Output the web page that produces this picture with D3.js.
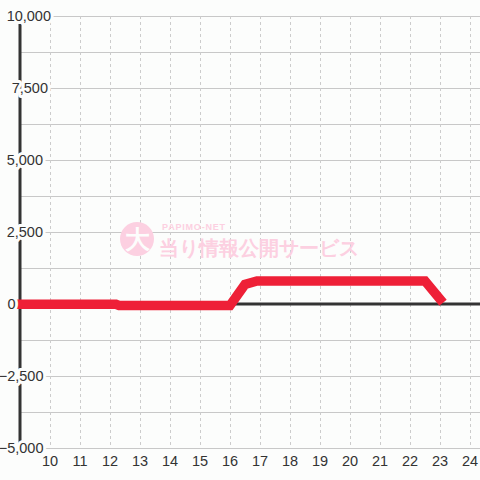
<!DOCTYPE html>
<html><head><meta charset="utf-8">
<script src="https://cdn.jsdelivr.net/npm/d3@7"></script>
<style>
html,body{margin:0;padding:0;background:#fcfdfc;}
svg{display:block;}
text{font-family:"Liberation Sans",Arial,sans-serif;}
</style></head>
<body>
<script>
// data
const hours = [9, 12.2, 12.3, 16.0, 16.5, 16.9, 22.5, 23.0];
const values = [-10, -10, -50, -50, 680, 800, 800, 170];
const xTicks = [10, 11, 12, 13, 14, 15, 16, 17, 18, 19, 20, 21, 22, 23, 24];
const yTicks = [-5000, -2500, 0, 2500, 5000, 7500, 10000];
const yGrid = d3.range(-5000, 10001, 1250);

const W = 480, H = 480;
const svg = d3.select("body").append("svg").attr("width", W).attr("height", H);
svg.append("rect").attr("width", W).attr("height", H).attr("fill", "#fcfdfc");

const x = d3.scaleLinear().domain([9, 24 + 1/3]).range([20, 480]);
const y = d3.scaleLinear().domain([-5000, 10000]).range([448, 16]);

// horizontal grid
svg.append("g").selectAll("line").data(yGrid).join("line")
  .attr("x1", x(9)).attr("x2", W)
  .attr("y1", d => y(d)).attr("y2", d => y(d))
  .attr("stroke", "#c8c8c8").attr("stroke-width", 1).attr("shape-rendering", "crispEdges");

// vertical dashed grid
svg.append("g").selectAll("line").data(xTicks).join("line")
  .attr("x1", d => Math.round(x(d)) + 0.5).attr("x2", d => Math.round(x(d)) + 0.5)
  .attr("y1", y(10000)).attr("y2", y(-5000))
  .attr("stroke", "#cccccc").attr("stroke-width", 1).attr("stroke-dasharray", "3,3");

// watermark
const wm = svg.append("g");
wm.append("circle").attr("cx", 137).attr("cy", 239).attr("r", 17).attr("fill", "#fcd0e1");
wm.append("text").attr("x", 137).attr("y", 248).attr("text-anchor", "middle")
  .attr("font-family", "Noto Sans CJK JP").attr("font-weight", "bold").attr("font-size", 25)
  .attr("fill", "#fcfdfc").text("大");
wm.append("text").attr("x", 162).attr("y", 230)
  .attr("font-family", "Noto Sans CJK JP").attr("font-weight", "bold").attr("font-size", 9)
  .attr("letter-spacing", 0.8).attr("fill", "#fcd0e1").text("PAPIMO-NET");
wm.append("text").attr("x", 159).attr("y", 255)
  .attr("font-family", "Noto Sans CJK JP").attr("font-weight", "bold").attr("font-size", 20)
  .attr("fill", "#fcd0e1").text("当り情報公開サービス");

// zero line
svg.append("line").attr("x1", x(9)).attr("x2", W).attr("y1", y(0)).attr("y2", y(0))
  .attr("stroke", "#333").attr("stroke-width", 3);

// y axis line
svg.append("line").attr("x1", x(9)).attr("x2", x(9)).attr("y1", 24).attr("y2", y(-5000))
  .attr("stroke", "#333").attr("stroke-width", 3);

// series line
const pts = hours.map((h, i) => [h, values[i]]);
svg.append("path").datum(pts)
  .attr("d", d3.line().x(d => x(d[0])).y(d => y(d[1])))
  .attr("fill", "none").attr("stroke", "#ee2037").attr("stroke-width", 9.5)
  .attr("stroke-linecap", "square");

// y labels
const fmt = d3.format(",");
const yEnd = {10000: 51, 7500: 48, 5000: 43, 2500: 43, 0: 15.5, "-2500": 43.5, "-5000": 43.5};
svg.append("g").selectAll("text").data(yTicks).join("text")
  .attr("x", d => yEnd[d]).attr("y", d => y(d)).attr("dy", "0.35em")
  .attr("text-anchor", "end").attr("font-size", 14.5).attr("fill", "#333")
  .attr("stroke", "#fcfdfc").attr("stroke-width", 6).attr("stroke-linejoin", "round")
  .attr("paint-order", "stroke")
  .text(d => fmt(d));

// x labels
svg.append("g").selectAll("text").data(xTicks).join("text")
  .attr("x", d => x(d)).attr("y", 461).attr("dy", "0.35em")
  .attr("text-anchor", "middle").attr("font-size", 14.5).attr("fill", "#333")
  .text(d => d);
</script>
</body></html>
